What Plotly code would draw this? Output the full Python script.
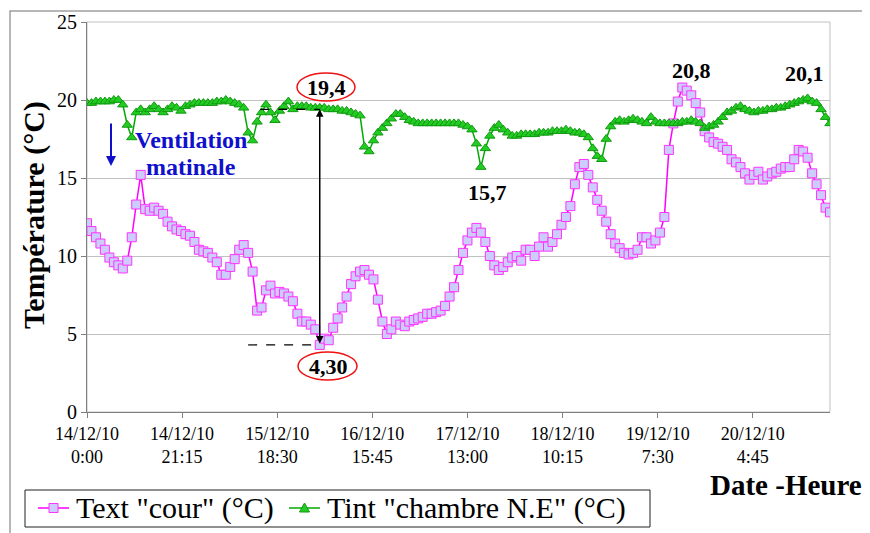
import numpy as np
import pandas as pd
import plotly.graph_objects as go

# ---------------- data (hourly readings from 14/12/10 0:00) ----------------
start_time = "2010-12-14 00:00"

text_cour = [
    12.1, 11.6, 11.2, 10.8, 10.4, 9.9, 9.6, 9.4, 9.2, 9.7,
    11.2, 13.3, 15.2, 13.0, 12.9, 13.1, 12.9, 12.7, 12.2, 11.9,
    11.7, 11.6, 11.4, 11.3, 10.9, 10.4, 10.3, 10.2, 9.9, 9.6,
    8.8, 8.8, 9.3, 9.8, 10.4, 10.7, 10.2, 9.0, 6.5, 6.7,
    7.8, 8.1, 7.6, 7.7, 7.6, 7.4, 7.1, 6.3, 5.8, 5.8,
    5.6, 5.3, 4.3, 4.7, 4.6, 5.4, 6.0, 6.7, 7.4, 8.2,
    8.7, 9.0, 9.1, 8.8, 8.5, 7.2, 5.8, 5.0, 5.3, 5.8,
    5.6, 5.5, 5.8, 5.9, 6.0, 6.1, 6.3, 6.3, 6.4, 6.5,
    6.8, 7.4, 8.0, 9.1, 10.2, 11.0, 11.5, 11.8, 11.5, 10.9,
    10.0, 9.4, 9.1, 9.3, 9.6, 9.9, 10.0, 9.7, 10.4, 10.4,
    10.0, 10.6, 11.2, 10.6, 10.9, 11.4, 12.0, 12.5, 13.2, 14.6,
    15.7, 15.9, 15.2, 14.4, 13.6, 12.9, 12.2, 11.4, 10.8, 10.5,
    10.2, 10.1, 10.2, 10.4, 11.2, 11.2, 10.8, 11.0, 11.5, 12.5,
    16.8, 18.5, 19.9, 20.8, 20.6, 20.3, 19.8, 19.2, 18.0, 17.6,
    17.3, 17.2, 17.0, 16.8, 16.2, 16.0, 15.7, 15.3, 14.9, 15.2,
    15.4, 14.9, 15.1, 15.3, 15.4, 15.6, 15.7, 15.7, 16.2, 16.8,
    16.7, 16.3, 15.3, 14.6, 13.9, 13.1, 12.8,
]

tint_chambre = [
    19.8, 19.8, 19.9, 19.9, 19.9, 19.9, 20.0, 20.0, 19.7, 18.4,
    17.6, 19.2, 19.4, 19.2, 19.4, 19.6, 19.4, 19.2, 19.4, 19.6,
    19.5, 19.3, 19.6, 19.7, 19.8, 19.8, 19.8, 19.8, 19.8, 19.9,
    19.9, 20.0, 19.9, 19.8, 19.7, 19.5, 17.9, 17.4, 18.6, 19.2,
    19.7, 19.2, 18.7, 19.3, 19.6, 19.9, 19.4, 19.6, 19.6, 19.6,
    19.5, 19.5, 19.5, 19.5, 19.4, 19.4, 19.4, 19.3, 19.3, 19.2,
    19.1, 19.0, 17.0, 16.7, 17.4, 17.9, 18.2, 18.5, 18.8, 19.1,
    19.1, 18.9, 18.7, 18.6, 18.5, 18.5, 18.5, 18.5, 18.5, 18.5,
    18.5, 18.5, 18.5, 18.5, 18.4, 18.3, 18.1, 17.2, 15.7, 16.9,
    17.7, 18.2, 18.4, 18.1, 17.9, 17.7, 17.7, 17.8, 17.8, 17.8,
    17.8, 17.9, 17.9, 17.9, 18.0, 18.0, 18.0, 18.1, 18.0, 17.9,
    17.9, 17.8, 17.6, 16.9, 16.4, 16.2, 17.5, 18.3, 18.6, 18.7,
    18.6, 18.7, 18.8, 18.7, 18.6, 18.5, 18.9, 18.6, 18.5, 18.5,
    18.5, 18.5, 18.5, 18.6, 18.6, 18.7, 18.6, 18.5, 18.2, 18.3,
    18.4, 18.6, 18.9, 19.2, 19.3, 19.5, 19.6, 19.4, 19.3, 19.2,
    19.3, 19.3, 19.4, 19.4, 19.5, 19.5, 19.6, 19.7, 19.8, 19.9,
    20.0, 20.1, 19.9, 19.8, 19.4, 18.9, 18.5,
]

tick_labels = ["14/12/10<br>0:00", "14/12/10<br>21:15", "15/12/10<br>18:30",
               "16/12/10<br>15:45", "17/12/10<br>13:00", "18/12/10<br>10:15",
               "19/12/10<br>7:30", "20/12/10<br>4:45"]
tick_step_hours = 21.25

series_names = ['Text "cour" (°C)', 'Tint "chambre N.E" (°C)']

# highlighted values
max_label, max_hour, max_value = "19,4", 52, 19.4
min_label, min_hour, min_value = "4,30", 52, 4.3
peak_labels = ["15,7", "20,8", "20,1"]

# ---------------- build ----------------
base = pd.Timestamp(start_time)
times = base + pd.to_timedelta(np.arange(len(text_cour)), unit="h")
tickvals = [base + pd.Timedelta(hours=tick_step_hours * k) for k in range(len(tick_labels))]

def at(h):
    return base + pd.Timedelta(hours=h)

# the page body has an 8px margin: the figure is sized so it ends at the window edge
OFF = 8
W, H = 870 - OFF, 533 - OFF
# plot area in page pixels
L, R, T, B = 87, 830, 22, 412
def px(x):
    return (x - L) / (R - L)
def py(y):
    return (B - y) / (B - T)

SERIF = "Liberation Serif, Times New Roman, serif"
PINK_LINE, PINK_FILL, PINK_EDGE = "#ff00ff", "#ccccff", "#ff33ff"
GREEN_LINE, GREEN_FILL, GREEN_EDGE = "#00aa00", "#22cc22", "#119911"

fig = go.Figure()
fig.add_trace(go.Scatter(
    x=times, y=text_cour, mode="lines+markers", name=series_names[0],
    line=dict(color=PINK_LINE, width=1.5),
    marker=dict(symbol="square", size=9, color=PINK_FILL, line=dict(color=PINK_EDGE, width=1)),
))
fig.add_trace(go.Scatter(
    x=times, y=tint_chambre, mode="lines+markers", name=series_names[1],
    line=dict(color=GREEN_LINE, width=1.5),
    marker=dict(symbol="triangle-up", size=9, color=GREEN_FILL, line=dict(color=GREEN_EDGE, width=1)),
))

def label(txt, x, y, size=22, color="black", **kw):
    d = dict(x=px(x), y=py(y), xref="paper", yref="paper", text=txt, showarrow=False,
             xanchor="center", yanchor="middle",
             font=dict(family=SERIF, size=size, color=color))
    d.update(kw)
    return d

annotations = []
for txt, (x, y) in zip(peak_labels, [(487, 192), (691, 70), (804, 73)]):
    annotations.append(label(f"<b>{txt}</b>", x, y))
annotations.append(label(f"<b>{max_label}</b>", 326, 88))
annotations.append(label(f"<b>{min_label}</b>", 328, 366))
# double arrow between min and max
annotations.append(dict(x=at(max_hour), y=max_value, ax=at(min_hour), ay=min_value,
                        xref="x", yref="y", axref="x", ayref="y", text="", showarrow=True,
                        arrowside="end+start", arrowhead=2, arrowsize=1, arrowwidth=1.5,
                        arrowcolor="black"))
# ventilation text + arrow
annotations.append(label("<b>Ventilation</b>", 191, 140, size=24, color="#1010cc"))
annotations.append(label("<b>matinale</b>", 191, 167, size=24, color="#1010cc"))
annotations.append(dict(x=px(111), y=py(166), ax=0, ay=-44, xref="paper", yref="paper",
                        axref="pixel", ayref="pixel", text="", showarrow=True, arrowhead=2,
                        arrowsize=1, arrowwidth=2, arrowcolor="#1010cc"))
# axis titles
annotations.append(label("<b>Température (°C)</b>", 34, 215, size=30, textangle=-90))
annotations.append(label("<b>Date -Heure</b>", 786, 485, size=29))

shapes = [
    dict(type="rect", xref="paper", yref="paper", x0=0, x1=1, y0=0, y1=1,
         line=dict(color="#c0c0c0", width=1), layer="below"),
    dict(type="rect", xref="paper", yref="paper", x0=px(10), x1=px(900), y0=py(600), y1=py(11),
         line=dict(color="#a0a0a0", width=1.5), layer="below"),
    dict(type="line", xref="x", yref="y", x0=at(38.7), x1=at(52), y0=max_value, y1=max_value,
         line=dict(color="black", width=1.2, dash="dash")),
    dict(type="line", xref="x", yref="y", x0=at(36.0), x1=at(52), y0=min_value, y1=min_value,
         line=dict(color="black", width=1.2, dash="dash")),
    dict(type="circle", xref="paper", yref="paper", x0=px(297), x1=px(355), y0=py(101), y1=py(73),
         line=dict(color="#ee1111", width=1.5)),
    dict(type="circle", xref="paper", yref="paper", x0=px(298), x1=px(357), y0=py(380), y1=py(352),
         line=dict(color="#ee1111", width=1.5)),
]

# ---- legend box drawn as in the original (Excel-style, big serif text) ----
LEG_Y = 508
shapes.append(dict(type="rect", xref="paper", yref="paper", x0=px(25), x1=px(650),
                   y0=py(527), y1=py(490), line=dict(color="#202020", width=1),
                   fillcolor="white", layer="above"))
# item 1: line + square
shapes.append(dict(type="line", xref="paper", yref="paper", x0=px(38), x1=px(69),
                   y0=py(LEG_Y), y1=py(LEG_Y), line=dict(color=PINK_LINE, width=1.5)))
shapes.append(dict(type="rect", xref="paper", yref="paper", x0=px(49), x1=px(58),
                   y0=py(LEG_Y + 4.5), y1=py(LEG_Y - 4.5), fillcolor=PINK_FILL,
                   line=dict(color=PINK_EDGE, width=1)))
annotations.append(dict(x=px(74), y=py(LEG_Y), xref="paper", yref="paper", text=series_names[0],
                        showarrow=False, xanchor="left", yanchor="middle",
                        font=dict(family=SERIF, size=30, color="black")))
# item 2: line + triangle
shapes.append(dict(type="line", xref="paper", yref="paper", x0=px(289), x1=px(320),
                   y0=py(LEG_Y), y1=py(LEG_Y), line=dict(color=GREEN_LINE, width=1.5)))
tri = f"M {px(304.5)} {py(LEG_Y - 5)} L {px(309.5)} {py(LEG_Y + 4)} L {px(299.5)} {py(LEG_Y + 4)} Z"
shapes.append(dict(type="path", xref="paper", yref="paper", path=tri, fillcolor=GREEN_FILL,
                   line=dict(color=GREEN_EDGE, width=1)))
annotations.append(dict(x=px(325), y=py(LEG_Y), xref="paper", yref="paper", text=series_names[1],
                        showarrow=False, xanchor="left", yanchor="middle",
                        font=dict(family=SERIF, size=30, color="black")))

fig.update_layout(
    width=W, height=H,
    margin=dict(l=L - OFF, r=870 - R, t=T - OFF, b=533 - B, autoexpand=False),
    paper_bgcolor="white", plot_bgcolor="white",
    font=dict(family=SERIF, color="black"),
    showlegend=False,
    annotations=annotations,
    shapes=shapes,
)
fig.update_xaxes(
    type="date", range=[at(0), at(166)], tickmode="array", tickvals=tickvals, ticktext=tick_labels,
    showgrid=False, showline=True, linecolor="#808080", linewidth=1,
    ticks="outside", ticklen=5, tickcolor="#808080",
    tickfont=dict(family=SERIF, size=18, color="black"), zeroline=False,
)
fig.update_yaxes(
    range=[0, 25], tickmode="linear", tick0=0, dtick=5,
    showgrid=True, gridcolor="#c0c0c0", gridwidth=1,
    showline=True, linecolor="#808080", linewidth=1,
    ticks="outside", ticklen=5, tickcolor="#808080",
    tickfont=dict(family=SERIF, size=20, color="black"), zeroline=False,
)

fig.write_html("out.html")
